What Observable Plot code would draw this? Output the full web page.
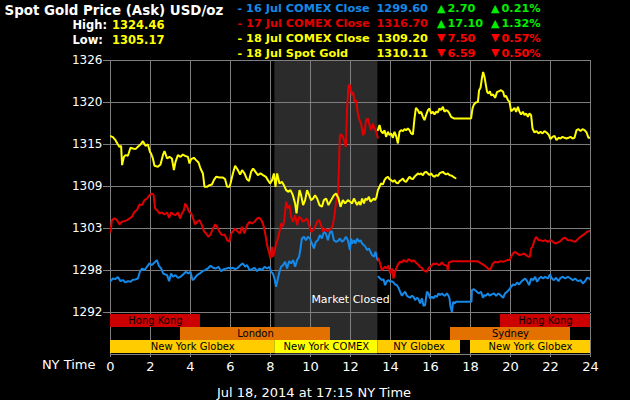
<!DOCTYPE html>
<html><head><meta charset="utf-8">
<script src="https://cdn.jsdelivr.net/npm/d3@7"></script>
<script src="https://cdn.jsdelivr.net/npm/@observablehq/plot@0.6"></script>
<style>
html,body{margin:0;padding:0;background:#000;}
#chart{position:relative;width:630px;height:400px;background:#000;overflow:hidden;font-family:"DejaVu Sans",sans-serif;}
#chart svg{position:absolute;left:0;}
</style></head><body><div id="chart"></div>
<script>
// ---------- data ----------
const titleText = "Spot Gold Price (Ask) USD/oz";
const highLow = [["High:", "1324.46"], ["Low:", "1305.17"]];
const legendLabels = ["16 Jul COMEX Close", "17 Jul COMEX Close", "18 Jul COMEX Close", "18 Jul Spot Gold"];
const legendValues = ["1299.60", "1316.70", "1309.20", "1310.11"];
const legendChanges = ["2.70", "17.10", "7.50", "6.59"];
const legendPcts = ["0.21%", "1.32%", "0.57%", "0.50%"];
const legendUp = [true, true, false, false];
const captionText = "Jul 18, 2014 at 17:15 NY Time";

const xTicks = [0, 2, 4, 6, 8, 10, 12, 14, 16, 18, 20, 22, 24];
const yTicks = [1292, 1297.67, 1303.33, 1309, 1314.67, 1320.33, 1326];
const yLabels = ["1292", "1298", "1303", "1309", "1315", "1320", "1326"];
const marketClosed = [{start: 8.22, end: 13.37}];

const sessionRows = ["asia", "europe", "newyork"];
const sessions = [
  {label: "Hong Kong", row: "asia", start: 0, end: 4.5},
  {label: "Hong Kong", row: "asia", start: 19.5, end: 24},
  {label: "London", row: "europe", start: 3.5, end: 11},
  {label: "Sydney", row: "europe", start: 17, end: 23},
  {label: "New York Globex", row: "newyork", start: 0, end: 8.22},
  {label: "New York COMEX", row: "newyork", start: 8.22, end: 13.37},
  {label: "NY Globex", row: "newyork", start: 13.37, end: 17.5},
  {label: "New York Globex", row: "newyork", start: 18, end: 24}
];

// 16 Jul (blue)
const jul16Day = [[0,1296.23],[0.12,1296.59],[0.23,1296.5],[0.37,1296.77],[0.5,1296.23],[0.62,1296.37],[0.75,1296.05],[0.87,1296.23],[1,1296.14],[1.12,1296.41],[1.25,1296.46],[1.37,1296.59],[1.47,1297.49],[1.58,1297.94],[1.7,1297.71],[1.82,1298.17],[1.95,1298.62],[2.07,1298.39],[2.2,1298.75],[2.32,1299.07],[2.42,1298.3],[2.53,1297.94],[2.63,1297.27],[2.73,1297.13],[2.83,1297.04],[2.93,1296.23],[3.03,1297.27],[3.13,1296.82],[3.25,1297.04],[3.37,1296.68],[3.5,1296.82],[3.63,1297.13],[3.77,1297.49],[3.9,1297.27],[4,1297.49],[4.1,1296.37],[4.2,1296.59],[4.33,1297.04],[4.47,1297.27],[4.6,1297.58],[4.73,1297.71],[4.87,1297.94],[5,1298.3],[5.13,1298.03],[5.27,1297.94],[5.4,1298.17],[5.53,1297.58],[5.67,1297.85],[5.8,1297.94],[5.93,1298.03],[6.0,1297.94],[6.12,1298.03],[6.23,1297.85],[6.37,1298.03],[6.5,1298.39],[6.62,1298.62],[6.73,1298.17],[6.83,1298.39],[6.95,1297.71],[7.07,1297.85],[7.2,1298.03],[7.33,1297.58],[7.45,1297.94],[7.57,1297.71],[7.7,1298.17],[7.83,1297.94],[7.95,1298.17],[8.03,1297.49],[8.12,1297.27],[8.2,1296.59],[8.28,1295.47],[8.37,1296.59],[8.45,1297.49],[8.53,1298.17],[8.63,1298.39],[8.73,1298.84],[8.83,1297.94],[8.93,1298.93],[9.03,1298.62],[9.13,1299.07],[9.23,1298.17],[9.33,1299.07],[9.43,1299.52],[9.5,1300.64],[9.57,1301.99],[9.67,1302.21],[9.77,1301.76],[9.87,1302.21],[9.97,1301.99],[10.07,1301.31],[10.17,1300.64],[10.27,1301.54],[10.37,1301.76],[10.47,1302.44],[10.57,1301.99],[10.67,1302.89],[10.77,1302.66],[10.87,1301.76],[10.97,1302.8],[11.07,1302.98],[11.17,1301.76],[11.27,1301.54],[11.37,1301.63],[11.47,1301.99],[11.57,1301.54],[11.67,1301.76],[11.77,1302.21],[11.87,1301.76],[11.97,1300.42],[12.03,1301.99],[12.08,1301.31],[12.17,1301.76],[12.25,1301.31],[12.33,1301.99],[12.42,1301.54],[12.5,1301.76],[12.58,1301.31],[12.67,1301.09],[12.75,1300.86],[12.83,1300.42],[12.92,1300.64],[13.0,1300.19],[13.08,1299.74],[13.17,1299.52],[13.25,1300.19],[13.32,1299.29],[13.37,1299.07]];
const jul16Evening = [[13.4,1296.82],[13.48,1296.59],[13.57,1296.37],[13.65,1296.5],[13.73,1295.69],[13.82,1296.23],[13.9,1296.37],[13.98,1296.14],[14.07,1296.23],[14.15,1296.05],[14.23,1295.78],[14.32,1295.69],[14.4,1295.33],[14.48,1294.8],[14.57,1294.26],[14.65,1294.58],[14.73,1294.8],[14.82,1294.26],[14.9,1294.12],[14.98,1293.99],[15.07,1294.26],[15.15,1294.12],[15.23,1293.67],[15.32,1293.99],[15.4,1293.81],[15.48,1293.22],[15.57,1293.9],[15.65,1292.91],[15.73,1293.0],[15.82,1294.8],[15.9,1294.58],[15.98,1293.9],[16.07,1294.12],[16.15,1293.9],[16.23,1294.26],[16.32,1294.12],[16.4,1294.58],[16.48,1294.35],[16.57,1294.58],[16.65,1294.35],[16.73,1294.26],[16.82,1294.58],[16.9,1294.26],[16.95,1293.9],[17.0,1292.78],[17.07,1292.1],[17.13,1293.45],[17.2,1293.22],[17.28,1293.45],[18.05,1293.45],[18.07,1295.02],[18.17,1295.15],[18.28,1294.89],[18.4,1294.58],[18.53,1294.8],[18.62,1293.99],[18.7,1294.35],[18.78,1294.26],[18.87,1294.58],[18.95,1294.26],[19.07,1294.44],[19.17,1294.58],[19.28,1294.26],[19.4,1294.58],[19.53,1294.26],[19.63,1293.99],[19.73,1294.58],[19.83,1294.8],[19.95,1295.15],[20.03,1295.47],[20.13,1295.78],[20.23,1295.69],[20.33,1296.05],[20.43,1295.78],[20.53,1296.14],[20.63,1296.37],[20.73,1296.59],[20.83,1296.23],[20.93,1295.69],[21.03,1296.59],[21.13,1296.37],[21.23,1296.82],[21.33,1296.14],[21.43,1296.59],[21.53,1296.82],[21.63,1296.59],[21.73,1296.82],[21.87,1296.59],[21.97,1297.13],[22.07,1296.59],[22.17,1296.37],[22.28,1296.68],[22.4,1296.23],[22.5,1296.68],[22.62,1296.82],[22.73,1296.59],[22.87,1296.82],[23.0,1296.59],[23.12,1296.37],[23.23,1296.59],[23.37,1296.23],[23.5,1296.37],[23.62,1295.92],[23.73,1296.23],[23.83,1296.68],[23.95,1296.59],[24,1296.4]];

// 17 Jul (red)
const jul17Day = [[0,1302.89],[0.07,1304.46],[0.2,1304.69],[0.33,1304.46],[0.45,1303.88],[0.57,1304.24],[0.7,1304.33],[0.83,1304.46],[0.95,1304.69],[1.07,1304.91],[1.2,1305.59],[1.32,1305.81],[1.45,1306.58],[1.58,1306.49],[1.7,1307.16],[1.83,1307.38],[1.95,1307.83],[2.07,1308.06],[2.15,1307.92],[2.23,1306.04],[2.33,1305.81],[2.45,1305.36],[2.57,1305.5],[2.7,1305.23],[2.83,1305.5],[2.93,1304.78],[3.03,1305.5],[3.15,1305.23],[3.25,1305.14],[3.37,1305.5],[3.48,1304.69],[3.57,1305.36],[3.67,1305.81],[3.73,1306.71],[3.83,1306.26],[3.93,1305.59],[4.03,1305.36],[4.13,1304.69],[4.23,1303.88],[4.33,1304.24],[4.45,1304.46],[4.57,1303.79],[4.67,1302.98],[4.78,1302.66],[4.9,1302.21],[5,1302.53],[5.12,1303.33],[5.23,1303.88],[5.33,1303.56],[5.45,1302.89],[5.57,1302.44],[5.7,1302.53],[5.83,1301.76],[5.95,1301.54],[6.03,1302.6],[6.1,1302.89],[6.23,1303.33],[6.37,1302.89],[6.47,1302.66],[6.57,1303.56],[6.7,1302.66],[6.83,1303.79],[6.95,1304.24],[7.07,1304.01],[7.2,1304.24],[7.33,1304.69],[7.45,1304.78],[7.57,1304.33],[7.67,1303.56],[7.75,1302.44],[7.83,1301.09],[7.92,1300.19],[8.0,1299.29],[8.07,1300.86],[8.13,1299.52],[8.2,1300.19],[8.28,1301.31],[8.37,1301.99],[8.45,1302.89],[8.53,1304.01],[8.62,1303.56],[8.7,1304.69],[8.78,1306.94],[8.87,1306.04],[8.95,1306.49],[9.03,1304.91],[9.13,1304.24],[9.23,1305.14],[9.33,1303.79],[9.43,1304.91],[9.53,1304.69],[9.63,1304.24],[9.73,1304.46],[9.83,1304.69],[9.93,1303.79],[10.03,1302.89],[10.13,1303.11],[10.23,1303.56],[10.33,1304.24],[10.43,1304.46],[10.53,1303.79],[10.63,1302.89],[10.73,1303.33],[10.83,1302.98],[10.93,1303.11],[11.03,1303.33],[11.12,1303.79],[11.2,1305.14],[11.28,1306.94],[11.37,1307.83],[11.42,1311.43],[11.47,1315.93],[11.53,1316.02],[11.62,1315.7],[11.7,1315.03],[11.77,1314.35],[11.83,1319.53],[11.9,1322.67],[11.97,1322.67],[12.07,1321.32],[12.13,1321.77],[12.2,1320.42],[12.28,1320.65],[12.37,1318.85],[12.45,1317.95],[12.53,1317.5],[12.62,1315.93],[12.7,1316.16],[12.78,1317.95],[12.87,1318.18],[12.95,1317.28],[13.03,1316.6],[13.12,1317.5],[13.2,1316.83],[13.28,1316.38],[13.37,1315.57]];
const jul17Evening = [[13.4,1299.29],[13.48,1298.62],[13.57,1297.71],[13.65,1297.94],[13.73,1298.17],[13.82,1297.94],[13.9,1298.39],[13.98,1297.27],[14.07,1297.94],[14.15,1296.59],[14.23,1297.49],[14.32,1298.17],[14.4,1298.62],[14.48,1298.84],[14.57,1298.75],[14.65,1299.07],[14.73,1298.93],[14.82,1298.84],[14.9,1299.2],[14.98,1299.07],[15.07,1298.84],[15.15,1299.07],[15.23,1298.84],[15.32,1298.62],[15.4,1298.39],[15.48,1298.17],[15.57,1298.03],[15.65,1297.71],[15.73,1297.58],[15.82,1297.49],[15.9,1297.94],[15.98,1298.17],[16.07,1298.39],[16.15,1298.62],[16.23,1298.48],[16.32,1298.62],[16.4,1298.39],[16.48,1298.48],[16.57,1298.75],[16.65,1298.48],[16.73,1298.39],[16.82,1298.3],[16.87,1297.71],[16.92,1298.75],[17.0,1298.84],[17.12,1298.93],[18.35,1298.93],[18.45,1298.75],[18.53,1298.62],[18.67,1298.39],[18.78,1298.17],[18.9,1297.85],[19.0,1297.85],[19.12,1298.62],[19.23,1298.84],[19.37,1298.75],[19.5,1298.93],[19.62,1298.84],[19.73,1298.93],[19.83,1299.07],[19.95,1299.07],[20.03,1299.52],[20.12,1299.97],[20.23,1300.19],[20.33,1299.97],[20.45,1299.74],[20.57,1299.83],[20.67,1299.97],[20.78,1299.74],[20.9,1299.52],[20.97,1299.52],[21.03,1300.64],[21.1,1300.86],[21.2,1301.76],[21.28,1302.21],[21.4,1301.76],[21.5,1301.76],[21.62,1301.63],[21.73,1301.76],[21.87,1301.54],[22.0,1301.76],[22.12,1301.54],[22.23,1301.31],[22.37,1301.45],[22.5,1301.63],[22.62,1301.99],[22.73,1302.08],[22.87,1301.76],[23.0,1301.76],[23.12,1301.63],[23.23,1301.54],[23.37,1301.9],[23.5,1302.21],[23.62,1302.44],[23.73,1302.66],[23.83,1302.89],[23.95,1302.98]];

// 18 Jul (yellow)
const jul18Day = [[0,1315.79],[0.12,1315.66],[0.25,1315.25],[0.37,1314.67],[0.45,1314.35],[0.53,1314.49],[0.58,1311.88],[0.67,1313.0],[0.75,1313.23],[0.87,1313.14],[1,1314.22],[1.12,1314.13],[1.25,1314.04],[1.37,1314.35],[1.5,1314.67],[1.62,1315.12],[1.75,1314.49],[1.87,1314.67],[1.97,1313.68],[2.03,1313.45],[2.12,1312.78],[2.2,1311.79],[2.37,1311.66],[2.5,1311.97],[2.62,1313.23],[2.7,1313.77],[2.83,1312.78],[2.95,1313.0],[3.07,1312.78],[3.17,1311.21],[3.25,1312.33],[3.37,1313.23],[3.5,1313.0],[3.62,1313.32],[3.73,1313.14],[3.87,1313.0],[3.95,1312.11],[4.03,1312.69],[4.17,1312.87],[4.28,1312.56],[4.4,1312.24],[4.5,1311.43],[4.62,1310.76],[4.7,1308.96],[4.82,1308.96],[4.95,1309.18],[5.07,1309.27],[5.17,1309.86],[5.28,1310.31],[5.45,1310.22],[5.62,1310.22],[5.73,1309.99],[5.83,1308.96],[5.95,1308.96],[6.0,1309.41],[6.12,1310.76],[6.23,1311.79],[6.37,1311.21],[6.48,1310.62],[6.58,1311.21],[6.7,1310.76],[6.82,1309.99],[6.92,1309.72],[7.03,1310.98],[7.13,1311.43],[7.25,1310.98],[7.37,1310.53],[7.5,1310.76],[7.63,1310.53],[7.77,1310.31],[7.87,1309.86],[7.98,1309.41],[8.08,1309.86],[8.17,1310.76],[8.25,1308.96],[8.33,1310.76],[8.45,1309.41],[8.57,1309.63],[8.67,1309.18],[8.78,1308.51],[8.9,1308.28],[9.0,1308.51],[9.12,1307.83],[9.23,1306.71],[9.3,1305.36],[9.37,1306.94],[9.45,1308.51],[9.53,1307.83],[9.63,1306.49],[9.73,1307.16],[9.83,1308.51],[9.93,1307.83],[10.03,1307.16],[10.13,1307.38],[10.23,1307.83],[10.33,1307.38],[10.45,1306.49],[10.57,1306.26],[10.67,1307.16],[10.78,1307.38],[10.9,1306.49],[11.03,1307.16],[11.17,1307.83],[11.28,1308.06],[11.4,1307.38],[11.5,1306.26],[11.62,1307.16],[11.73,1306.71],[11.87,1307.16],[12.0,1306.9],[12.08,1306.71],[12.17,1307.38],[12.25,1306.94],[12.33,1306.49],[12.42,1306.94],[12.5,1306.49],[12.58,1307.38],[12.67,1306.71],[12.75,1307.38],[12.83,1307.16],[12.92,1307.61],[13.0,1306.94],[13.08,1307.16],[13.17,1307.38],[13.23,1307.16],[13.3,1307.61],[13.37,1308.51],[13.45,1308.96],[13.53,1309.41],[13.62,1309.27],[13.7,1309.86],[13.78,1310.17],[13.87,1310.31],[13.95,1309.99],[14.03,1309.86],[14.12,1309.63],[14.2,1309.86],[14.28,1309.54],[14.37,1309.41],[14.45,1309.72],[14.53,1309.86],[14.62,1310.08],[14.7,1309.72],[14.78,1309.63],[14.87,1309.99],[14.95,1310.31],[15.03,1310.08],[15.12,1309.99],[15.2,1310.31],[15.28,1310.53],[15.37,1310.76],[15.45,1310.62],[15.53,1310.76],[15.62,1310.53],[15.7,1310.89],[15.78,1310.98],[15.87,1310.76],[15.95,1310.53],[16.03,1310.76],[16.12,1310.44],[16.2,1310.31],[16.28,1310.53],[16.37,1310.44],[16.45,1310.76],[16.53,1310.89],[16.62,1310.98],[16.7,1310.76],[16.78,1310.62],[16.87,1310.76],[16.95,1310.53],[17.07,1310.44],[17.25,1310.11]];
const jul18Evening = [[13.37,1316.6],[13.45,1317.28],[13.53,1316.47],[13.62,1316.16],[13.7,1316.6],[13.78,1315.7],[13.87,1316.38],[13.95,1315.93],[14.03,1316.16],[14.12,1315.57],[14.2,1316.38],[14.28,1315.84],[14.37,1314.81],[14.45,1316.38],[14.53,1316.6],[14.62,1316.47],[14.7,1316.74],[14.78,1316.6],[14.87,1316.83],[14.95,1316.6],[15.03,1316.16],[15.12,1316.02],[15.2,1318.18],[15.27,1319.62],[15.37,1319.31],[15.45,1318.85],[15.53,1319.08],[15.62,1318.4],[15.7,1317.95],[15.78,1318.63],[15.87,1319.31],[15.95,1319.53],[16.03,1318.85],[16.12,1319.08],[16.2,1318.72],[16.28,1319.08],[16.37,1318.99],[16.45,1319.53],[16.53,1319.31],[16.62,1319.75],[16.7,1319.08],[16.78,1319.31],[16.87,1319.17],[16.95,1318.85],[17.03,1318.4],[17.17,1318.18],[18.03,1318.18],[18.1,1319.53],[18.17,1320.06],[18.27,1320.33],[18.37,1320.42],[18.43,1322.0],[18.5,1322.31],[18.57,1323.57],[18.63,1324.46],[18.7,1323.8],[18.77,1322.67],[18.83,1321.77],[18.9,1321.55],[18.97,1321.86],[19.03,1321.32],[19.13,1321.41],[19.23,1320.96],[19.33,1321.77],[19.43,1321.86],[19.53,1322.0],[19.63,1321.77],[19.7,1321.1],[19.78,1321.23],[19.87,1320.65],[19.95,1320.42],[20.03,1319.17],[20.1,1319.31],[20.2,1319.62],[20.28,1319.08],[20.37,1319.75],[20.45,1319.08],[20.53,1318.72],[20.62,1319.08],[20.7,1318.63],[20.78,1318.85],[20.87,1318.4],[20.95,1318.85],[21.03,1318.63],[21.1,1316.83],[21.2,1316.29],[21.3,1316.47],[21.4,1316.16],[21.5,1316.38],[21.6,1316.16],[21.7,1316.47],[21.8,1316.29],[21.9,1316.02],[22.0,1315.39],[22.1,1315.7],[22.2,1315.84],[22.3,1315.25],[22.4,1315.57],[22.5,1315.48],[22.6,1315.7],[22.7,1315.57],[22.8,1315.48],[22.9,1315.57],[23.0,1315.7],[23.1,1315.48],[23.2,1315.57],[23.3,1316.6],[23.4,1316.74],[23.5,1316.47],[23.6,1316.74],[23.7,1316.6],[23.8,1316.29],[23.9,1315.57],[23.97,1315.57]];

// ---------- styles ----------
const BLUE = "#1589e8", RED = "#e00000", YELLOW = "#ffff00";
const legendColors = [BLUE, RED, YELLOW, YELLOW];
const sessionColors = {"Hong Kong": "#cc0000", "London": "#e37100", "Sydney": "#e37100",
  "New York Globex": "#ffcc00", "NY Globex": "#ffcc00", "New York COMEX": "#ffff00"};
const GRID = "#7f7f7f", SHADE = "#2b2b2b", FONT = "DejaVu Sans, sans-serif";

const toRows = (arr, seg) => arr.map(([h, p]) => ({h, p, seg}));
const blueRows = [...toRows(jul16Day, "a"), ...toRows(jul16Evening, "b")];
const redRows = [...toRows(jul17Day, "a"), ...toRows(jul17Evening, "b")];
const yellowRows = [...toRows(jul18Day, "a"), ...toRows(jul18Evening, "b")];

const root = document.getElementById("chart");

// ---------- price chart ----------
const lineOpts = {x: "h", y: "p", z: "seg", strokeWidth: 2, strokeLinejoin: "miter", clip: true};
const priceChart = Plot.plot({
  width: 630, height: 313, marginLeft: 110, marginRight: 40, marginTop: 60, marginBottom: 1,
  style: {background: "transparent", color: "white", fontFamily: FONT, overflow: "visible"},
  x: {domain: [0, 24], axis: null, label: null},
  y: {domain: [1292, 1326], axis: null, label: null},
  marks: [
    Plot.rect(marketClosed, {x1: "start", x2: "end", fill: SHADE}),
    Plot.gridX(xTicks, {stroke: GRID, strokeOpacity: 1}),
    Plot.gridY(yTicks, {stroke: GRID, strokeOpacity: 1}),
    Plot.axisY(yTicks, {label: null, tickFormat: (d, i) => yLabels[i], tickSize: 7, tickPadding: 1, fontSize: 12, stroke: GRID, fill: "white"}),
    Plot.text(["Market Closed"], {x: () => 12, frameAnchor: "bottom", dy: -10, fill: "white", fontSize: 11}),
    Plot.line(blueRows, {...lineOpts, stroke: BLUE}),
    Plot.line(redRows, {...lineOpts, stroke: RED}),
    Plot.line(yellowRows, {...lineOpts, stroke: YELLOW})
  ]
});
priceChart.style.top = "0px";
root.appendChild(priceChart);

// ---------- trading sessions + time axis ----------
const sessionChart = Plot.plot({
  width: 630, height: 88, marginLeft: 110, marginRight: 40, marginTop: 1, marginBottom: 46,
  style: {background: "transparent", color: "white", fontFamily: FONT, overflow: "visible"},
  x: {domain: [0, 24], axis: null, label: null},
  y: {domain: sessionRows, axis: null, padding: 0, label: null},
  marks: [
    Plot.rect(marketClosed, {x1: "start", x2: "end", fill: SHADE}),
    Plot.gridX(xTicks, {stroke: GRID, strokeOpacity: 1}),
    Plot.barX(sessions, {x1: "start", x2: "end", y: "row", fill: d => sessionColors[d.label]}),
    Plot.text(sessions, {x: d => (d.start + d.end) / 2, y: "row", text: "label", fill: "black", fontSize: 10}),
    Plot.frame({anchor: "bottom", stroke: GRID}),
    Plot.axisX(xTicks, {anchor: "bottom", label: null, tickSize: 3, tickPadding: 4, fontSize: 13, stroke: GRID, fill: "white"}),
    Plot.text(["NY Time"], {frameAnchor: "bottom-left", textAnchor: "end", dx: -15, dy: 14, fontSize: 13, fill: "white"})
  ]
});
sessionChart.style.top = "312px";
root.appendChild(sessionChart);

// ---------- header ----------
const head = d3.select(root).append("svg")
  .attr("width", 630).attr("height", 60).style("top", "0px")
  .attr("font-family", FONT).attr("font-weight", "bold");
head.append("text").attr("x", 4.5).attr("y", 14.5).attr("font-size", 13.4).attr("fill", "white").text(titleText);
highLow.forEach(([k, v], i) => {
  const y = 29 + i * 15;
  head.append("text").attr("x", 72.5).attr("y", y).attr("font-size", 11.5).attr("fill", "white").text(k);
  head.append("text").attr("x", 112).attr("y", y).attr("font-size", 11.5).attr("fill", YELLOW).text(v);
});
legendLabels.forEach((lab, i) => {
  const y = 12 + i * 14.9;
  const c = legendColors[i];
  const chg = legendUp[i] ? "#00ee00" : "#ff0000";
  const tri = legendUp[i] ? "\u25B2" : "\u25BC";
  const g = head.append("g").attr("font-size", 11.3);
  g.append("text").attr("x", 237.5).attr("y", y).attr("fill", c).text("- " + lab);
  g.append("text").attr("x", 376.5).attr("y", y).attr("fill", c).text(legendValues[i]);
  g.append("text").attr("x", 437).attr("y", y - (legendUp[i] ? 0 : 1)).attr("font-size", 11).attr("fill", chg).text(tri);
  g.append("text").attr("x", 447.5).attr("y", y).attr("fill", chg).text(legendChanges[i]);
  g.append("text").attr("x", 491).attr("y", y - (legendUp[i] ? 0 : 1)).attr("font-size", 11).attr("fill", chg).text(tri);
  g.append("text").attr("x", 501.5).attr("y", y).attr("fill", chg).text(legendPcts[i]);
});

// ---------- caption ----------
const cap = d3.select(root).append("svg")
  .attr("width", 630).attr("height", 30).style("top", "370px");
cap.append("text").attr("x", 314).attr("y", 26.5).attr("text-anchor", "middle")
  .attr("font-family", FONT).attr("font-size", 13).attr("fill", "white").text(captionText);
</script></body></html>
